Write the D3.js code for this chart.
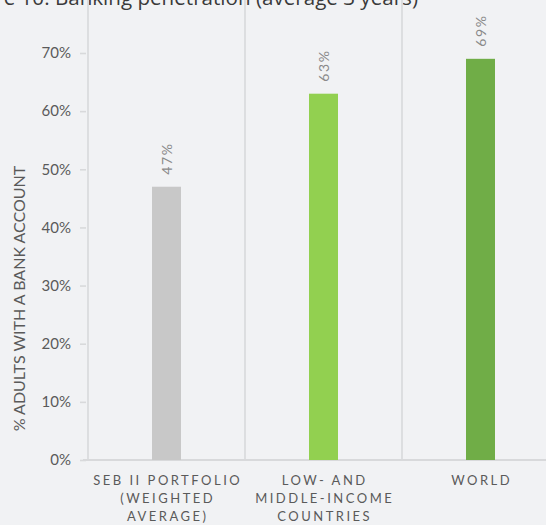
<!DOCTYPE html>
<html>
<head>
<meta charset="utf-8">
<script src="https://cdn.jsdelivr.net/npm/d3@7"></script>
<style>
  html, body { margin: 0; padding: 0; background: #f1f2f4; }
  svg { display: block; }
</style>
</head>
<body>
<svg id="chart" width="546" height="525"></svg>
<script>
// Banking penetration by group (share of adults with a bank account)
const categories = [
  ["SEB II PORTFOLIO", "(WEIGHTED", "AVERAGE)"],
  ["LOW- AND", "MIDDLE-INCOME", "COUNTRIES"],
  ["WORLD"]
];
const values = [0.47, 0.63, 0.69];
const barColors = ["#c8c8c8", "#92d050", "#70ad47"];
const yTicks = [0, 0.1, 0.2, 0.3, 0.4, 0.5, 0.6, 0.7];
const titleText = "Figure 10: Banking penetration (average 3 years)";
const yTitle = "% ADULTS WITH A BANK ACCOUNT";

(function draw() {
  const svg = d3.select("#chart");
  const W = 546;
  const plotLeft = 88, plotBottom = 460, plotTop = 53;

  const x = d3.scaleBand()
    .domain(d3.range(values.length))
    .range([plotLeft, plotLeft + 157 * values.length])
    .paddingInner(0).paddingOuter(0);

  const y = d3.scaleLinear().domain([0, 0.7]).range([plotBottom, plotTop]);

  const gridColor = "#d8d9db";
  const textColor = "#5a5a5a";

  // Title (runs off the top-left edge of the canvas)
  svg.append("text")
    .attr("x", 418).attr("y", 5)
    .attr("text-anchor", "end")
    .attr("font-family", "'Open Sans', sans-serif")
    .attr("font-size", 20.6)
    .attr("fill", "#3a3a3a")
    .text(titleText);

  // Vertical separators between category bands
  const bounds = x.domain().map(i => x(i));
  svg.append("g").selectAll("line")
    .data(bounds)
    .join("line")
    .attr("x1", d => d).attr("x2", d => d)
    .attr("y1", 0).attr("y2", plotBottom)
    .attr("stroke", gridColor).attr("stroke-width", 1.6);

  // Y axis
  const yAxis = d3.axisLeft(y)
    .tickValues(yTicks)
    .tickSize(6)
    .tickPadding(9)
    .tickFormat(d3.format(".0%"));
  const gy = svg.append("g")
    .attr("transform", `translate(${plotLeft - 2},0)`)
    .call(yAxis);
  gy.select(".domain").remove();
  gy.selectAll(".tick line").attr("stroke", gridColor).attr("stroke-width", 1.6);
  gy.selectAll(".tick text")
    .attr("font-family", "Lato, sans-serif")
    .attr("font-size", 15)
    .attr("fill", textColor);

  // X axis baseline
  svg.append("line")
    .attr("x1", plotLeft - 5).attr("x2", W)
    .attr("y1", plotBottom).attr("y2", plotBottom)
    .attr("stroke", gridColor).attr("stroke-width", 2);

  // Bars
  const barW = 29;
  svg.append("g").selectAll("rect")
    .data(values)
    .join("rect")
    .attr("x", (d, i) => x(i) + x.bandwidth() / 2 - barW / 2)
    .attr("y", d => y(d))
    .attr("width", barW)
    .attr("height", d => plotBottom - y(d))
    .attr("fill", (d, i) => barColors[i]);

  // Value labels, rotated above each bar
  svg.append("g").selectAll("text")
    .data(values)
    .join("text")
    .attr("transform", (d, i) =>
      `translate(${x(i) + x.bandwidth() / 2 + 5},${y(d) - 12}) rotate(-90)`)
    .attr("text-anchor", "start")
    .attr("font-family", "Lato, sans-serif")
    .attr("font-size", 14)
    .attr("letter-spacing", 1.6)
    .attr("fill", "#8a8a8a")
    .text(d3.format(".0%"));

  // Category labels
  const catG = svg.append("g");
  categories.forEach((lines, i) => {
    const t = catG.append("text")
      .attr("text-anchor", "middle")
      .attr("font-family", "Lato, sans-serif")
      .attr("font-size", 13)
      .attr("letter-spacing", 2.5)
      .attr("fill", textColor);
    lines.forEach((ln, j) => {
      t.append("tspan")
        .attr("x", x(i) + x.bandwidth() / 2 + 1.2)
        .attr("y", 485 + j * 18)
        .text(ln);
    });
  });

  // Y axis title
  svg.append("text")
    .attr("transform", `translate(25,${(432 + 165) / 2}) rotate(-90)`)
    .attr("text-anchor", "middle")
    .attr("font-family", "Lato, sans-serif")
    .attr("font-size", 16)
    .attr("fill", textColor)
    .text(yTitle);
})();
</script>
</body>
</html>
